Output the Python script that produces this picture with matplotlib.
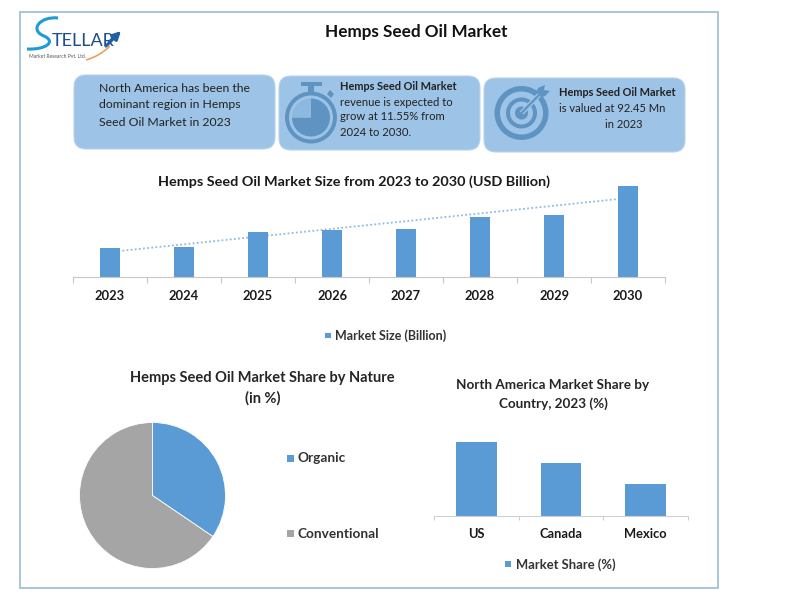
# Hemps seed oil market infographic
import numpy as np
import matplotlib.pyplot as plt
from matplotlib.patches import FancyBboxPatch, Circle, Wedge, Rectangle, Polygon
from matplotlib.path import Path
from matplotlib.patches import PathPatch

plt.rcParams['font.family'] = ['Lato', 'DejaVu Sans']

years = ['2023', '2024', '2025', '2026', '2027', '2028', '2029', '2030']
market_size = [29, 30, 45, 47, 48.5, 60, 62.5, 91]
trend_years = [0, 7]
trend_values = [25, 79]

nature_labels = ['Organic', 'Conventional']
nature_share = [34.5, 65.5]

countries = ['US', 'Canada', 'Mexico']
country_share = [74, 53, 32]

blue = '#5B9BD5'
gray = '#A5A5A5'
box_blue = '#9DC3E6'
icon_blue = '#5F94C2'
W, H = 800, 602


def pixel_axes(x0, y0, x1, y1):
    # axes from picture pixels, y measured from the top
    return fig.add_axes([x0 / W, 1 - y1 / H, (x1 - x0) / W, (y1 - y0) / H])


fig = plt.figure(figsize=[8, 6.02], dpi=100, facecolor='white')

# overlay for frame, boxes, icons and all loose text
bg = fig.add_axes([0, 0, 1, 1], zorder=0)
bg.set_xlim(0, W)
bg.set_ylim(H, 0)
bg.axis('off')

bg.add_patch(Rectangle((19.5, 11.5), 698, 576, fc='white', ec='#8FB8CE', lw=1.1))

# info boxes
for x, y in [(74, 75), (279, 76), (484, 78)]:
    bg.add_patch(FancyBboxPatch((x + 12, y + 12), 201 - 24, 74 - 24,
                                boxstyle='round,pad=12,rounding_size=12',
                                fc=box_blue, ec='#B5D3EC', lw=0.8))

# stopwatch icon (y axis is inverted here, so wedge angles run the other way)
cx, cy = 311, 117.5
bg.add_patch(Rectangle((cx - 10, 82), 21, 4, fc=icon_blue, ec='none'))
bg.add_patch(Rectangle((cx - 3, 86), 6, 6, fc=icon_blue, ec='none'))
bg.add_patch(Polygon([(330, 90), (334, 94), (331, 98), (327, 94)], fc=icon_blue, ec='none'))
bg.add_patch(Circle((cx, cy), 26, fc=icon_blue, ec='none'))
bg.add_patch(Circle((cx, cy), 22, fc=box_blue, ec='none'))
bg.add_patch(Wedge((cx, cy), 19, 270, 180, fc=icon_blue, ec='none'))
bg.add_patch(Wedge((cx, cy), 19, 180, 270, fc='#8DB8E0', ec='none'))

# target icon
cx, cy = 521.5, 113
for r, c in [(27, icon_blue), (21.5, box_blue), (15.5, icon_blue), (11.5, box_blue), (6.5, icon_blue)]:
    bg.add_patch(Circle((cx, cy), r, fc=c, ec='none'))
bg.plot([cx, 539], [cy, 95], color=box_blue, lw=3.5, solid_capstyle='butt')
bg.plot([cx, 539], [cy, 95], color=icon_blue, lw=1.6, solid_capstyle='butt')
bg.add_patch(Polygon([(535, 94), (538, 88), (545, 85), (544, 90), (550, 91), (545, 96), (540, 98)],
                     fc=icon_blue, ec='none'))

# logo
swoosh = Path([(58, 18), (40, 16), (29, 30), (44, 36), (57, 42), (45, 50), (27, 49)],
              [Path.MOVETO, Path.CURVE4, Path.CURVE4, Path.CURVE4, Path.CURVE4, Path.CURVE4, Path.CURVE4])
bg.add_patch(PathPatch(swoosh, fc='none', ec='#1D9BD7', lw=2.2))
bg.text(52, 46, 'TELLAR', fontsize=13, color='#1F4E8C', ha='left', va='baseline')
bg.add_patch(PathPatch(Path([(86, 60), (100, 56), (110, 46)], [Path.MOVETO, Path.CURVE3, Path.CURVE3]),
                       fc='none', ec='#E8A25B', lw=1.2))
bg.annotate('', xy=(123, 29), xytext=(104, 48),
            arrowprops=dict(arrowstyle='-|>', color='#1E5FA8', lw=2.2, mutation_scale=12))
bg.text(29, 56.5, 'Market Research Pvt. Ltd.', fontsize=3.6, color='#555555', va='center')

# titles
bg.text(416.5, 32, 'Hemps Seed Oil Market', fontsize=12.3, fontweight='bold', color='#111111',
        ha='center', va='center')
bg.text(354.5, 182, 'Hemps Seed Oil Market Size from 2023 to 2030 (USD Billion)', fontsize=10.4, fontweight='bold',
        color='#1a1a1a', ha='center', va='center')
bg.text(262.5, 388.5, 'Hemps Seed Oil Market Share by Nature\n(in %)', fontsize=10.5, fontweight='bold',
        color='#262626', ha='center', va='center', linespacing=1.5)
bg.text(553, 394.5, 'North America Market Share by\nCountry, 2023 (%)', fontsize=9.7, fontweight='bold',
        color='#262626', ha='center', va='center', linespacing=1.55)

# box text
txt = '#222222'
for y, s in [(88, 'North America has been the'), (105, 'dominant region in Hemps'), (122, 'Seed Oil Market in 2023')]:
    bg.text(99, y, s, fontsize=8.8, color=txt, va='center')
bg.text(340, 86, 'Hemps Seed Oil Market', fontsize=7.9, fontweight='bold', color=txt, va='center')
for y, s in [(102, 'revenue is expected to'), (117, 'grow at 11.55% from'), (132, '2024 to 2030.')]:
    bg.text(340, y, s, fontsize=8.1, color=txt, va='center')
bg.text(559, 93, 'Hemps Seed Oil Market', fontsize=7.95, fontweight='bold', color=txt, va='center')
bg.text(559, 108, 'is valued at 92.45 Mn', fontsize=8, color=txt, va='center')
bg.text(624, 124, 'in 2023', fontsize=8, color=txt, ha='center', va='center')

# legends
bg.add_patch(Rectangle((325, 332.5), 5.5, 5.5, fc=blue, ec='none'))
bg.text(335, 335.5, 'Market Size (Billion)', fontsize=9, fontweight='bold', color='#333333', va='center')
bg.add_patch(Rectangle((505, 561), 6, 6, fc=blue, ec='none'))
bg.text(516, 564.5, 'Market Share (%)', fontsize=9.4, fontweight='bold', color='#333333', va='center')
for y, c, s in zip([458, 533.5], [blue, gray], nature_labels):
    bg.add_patch(Rectangle((287, y - 3.5), 7, 7, fc=c, ec='none'))
    bg.text(298, y, s, fontsize=9.8, fontweight='bold', color='#333333', va='center')

# market size bars
ax = pixel_axes(73, 185, 665, 277)
ax.patch.set_alpha(0)
x = np.arange(len(years))
ax.plot(trend_years, trend_values, color='#8DBBE3', lw=1.3, ls=(0, (1, 1.3)), zorder=1)
ax.bar(x, market_size, 0.27, color=blue, zorder=2)
ax.set_xlim(-0.5, 7.5)
ax.set_ylim(0, 92)
ax.set_yticks([])
ax.set_xticks(np.append(x - 0.5, 7.5))
ax.set_xticklabels([])
ax.set_xticks(x, labels=years, minor=True)
ax.tick_params(axis='x', which='major', length=4, color='#C8C8C8', width=0.8)
ax.tick_params(axis='x', which='minor', length=0, pad=9, labelsize=9.3, colors='#1a1a1a')
for t in ax.get_xticklabels(minor=True):
    t.set_fontweight('bold')
for s in ['top', 'left', 'right']:
    ax.spines[s].set_visible(False)
ax.spines['bottom'].set_color('#C8C8C8')

# pie
ax2 = pixel_axes(79.5, 422.5, 225.5, 568.5)
ax2.pie(nature_share, colors=[blue, gray], startangle=90, counterclock=False, radius=1,
        wedgeprops=dict(edgecolor='white', linewidth=0.6))
ax2.set_xlim(-1, 1)
ax2.set_ylim(-1, 1)

# country bars
ax3 = pixel_axes(434, 441, 688, 516)
ax3.patch.set_alpha(0)
x3 = np.arange(len(countries))
ax3.bar(x3, country_share, 0.48, color=blue)
ax3.set_xlim(-0.5, 2.5)
ax3.set_ylim(0, 75)
ax3.set_yticks([])
ax3.set_xticks(np.arange(4) - 0.5)
ax3.set_xticklabels([])
ax3.set_xticks(x3, labels=countries, minor=True)
ax3.tick_params(axis='x', which='major', length=3, color='#D0D0D0', width=0.8)
ax3.tick_params(axis='x', which='minor', length=0, pad=9, labelsize=9.3, colors='#1a1a1a')
for t in ax3.get_xticklabels(minor=True):
    t.set_fontweight('bold')
for s in ['top', 'left', 'right']:
    ax3.spines[s].set_visible(False)
ax3.spines['bottom'].set_color('#D0D0D0')

fig.savefig('out.png', dpi=100)
